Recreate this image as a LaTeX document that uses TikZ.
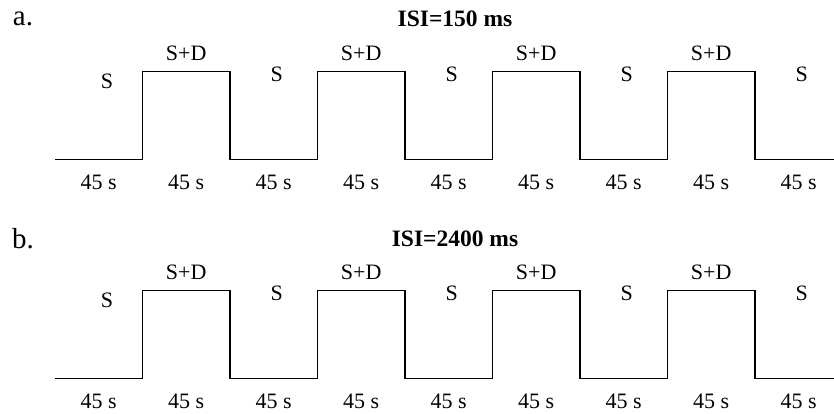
\documentclass[tikz,border=0pt]{standalone}
\usepackage{fontspec}
\setmainfont{Liberation Serif}
\begin{document}
\begin{tikzpicture}[x=1pt,y=-1pt,
  wave/.style={line width=1.4pt,line join=miter},
  lbl/.style={font=\fontsize{22}{22}\selectfont,inner sep=0pt},
  ttl/.style={font=\fontsize{23.5}{23.5}\selectfont\bfseries,inner sep=0pt},
  tag/.style={font=\fontsize{29}{29}\selectfont,inner sep=0pt}]
\useasboundingbox (0,0) rectangle (834,414);
% one block-design time course per panel
\foreach \oy/\tg/\tt [count=\p] in {0/a./{ISI=150 ms},219.3/b./{ISI=2400 ms}}{
  \begin{scope}[yshift=-\oy pt]
    \node[tag] (tag\p) at (23,19) {\tg};
    \node[ttl] (ttl\p) at (455,19) {\tt};
    \coordinate (start\p) at (55,159.3);
    \coordinate (end\p) at (834,159.3);
    \draw[wave] (start\p)
      \foreach \k in {0,...,3}{
        -- ({142.5+175*\k},159.3) -- ({142.5+175*\k},71.3)
        -- ({230+175*\k},71.3) -- ({230+175*\k},159.3)}
      -- (end\p);
    \foreach \k in {0,...,8}{
      \node[lbl] (dur\p-\k) at ({98.75+87.5*\k},182) {45 s};
    }
    \foreach \k in {0,...,3}{
      \node[lbl] (sd\p-\k) at ({186.25+175*\k},53) {S+D};
    }
    \node[lbl] (s\p-0) at (107,81) {S};
    \foreach \k in {1,...,4}{
      \node[lbl] (s\p-\k) at ({101.75+175*\k},74) {S};
    }
  \end{scope}
}
\end{tikzpicture}
\end{document}
